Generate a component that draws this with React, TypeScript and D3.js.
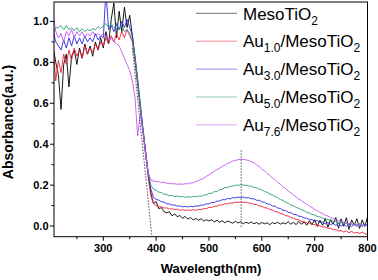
import React from 'react';
import * as d3 from 'd3';

const W = 378;
const H = 280;

const wavelengths = [
  205, 210, 215, 220, 225, 230, 235, 240, 245, 250,
  255, 260, 265, 270, 275, 280, 285, 290, 295, 300,
  305, 310, 315, 320, 325, 330, 335, 340, 345, 350,
  355, 360, 365, 370, 375, 380, 385, 390, 395,
  400, 405, 410, 415, 420, 425, 430, 435, 440, 445,
  450, 455, 460, 465, 470, 475, 480, 485, 490, 495,
  500, 505, 510, 515, 520, 525, 530, 535, 540, 545,
  550, 555, 560, 565, 570, 575, 580, 585, 590, 595,
  600, 605, 610, 615, 620, 625, 630, 635, 640, 645,
  650, 655, 660, 665, 670, 675, 680, 685, 690, 695,
  700, 705, 710, 715, 720, 725, 730, 735, 740, 745,
  750, 755, 760, 765, 770, 775, 780, 785, 790, 795,
  800,
];

const mesoTiO2 = [
  0.88, 0.80, 0.74, 0.57, 0.79, 0.84, 0.68, 0.83, 0.86, 0.79,
  0.87, 0.82, 0.89, 0.84, 0.88, 0.83, 0.90, 0.86, 0.92, 0.87,
  0.95, 0.89, 1.01, 1.09, 0.92, 1.05, 0.95, 1.07, 0.97, 1.03,
  0.93, 0.82, 0.70, 0.58, 0.47, 0.36, 0.25, 0.16, 0.11,
  0.12, 0.085, 0.09, 0.07, 0.065, 0.07, 0.05, 0.06, 0.045, 0.052,
  0.038, 0.047, 0.034, 0.042, 0.03, 0.037, 0.028, 0.036, 0.024, 0.031,
  0.025, 0.031, 0.02, 0.028, 0.019, 0.026, 0.016, 0.024, 0.02, 0.014,
  0.023, 0.015, 0.021, 0.011, 0.019, 0.013, 0.02, 0.011, 0.017, 0.009,
  0.018, 0.011, 0.016, 0.007, 0.017, 0.011, 0.019, 0.009, 0.016, 0.011,
  0.021, 0.009, 0.018, 0.007, 0.023, 0.009, 0.019, 0.004, 0.026, 0.007,
  0.031, -0.001, 0.029, 0.004, 0.036, -0.006, 0.031, 0.009, 0.042, -0.011,
  0.035, -0.001, 0.041, -0.016, 0.03, 0.004, 0.036, -0.012, 0.03, -0.002,
  0.045,
];

const au10 = [
  0.88, 0.71, 0.81, 0.75, 0.84, 0.79, 0.86, 0.81, 0.87, 0.83,
  0.86, 0.82, 0.88, 0.84, 0.87, 0.85, 0.89, 0.86, 0.90, 0.88,
  0.92, 0.89, 0.93, 0.90, 0.94, 0.91, 0.95, 0.92, 0.96, 0.93,
  0.90, 0.80, 0.69, 0.57, 0.46, 0.35, 0.24, 0.15, 0.11,
  0.10, 0.093, 0.094, 0.088, 0.089, 0.083, 0.085, 0.08, 0.083, 0.077,
  0.08, 0.076, 0.079, 0.076, 0.08, 0.077, 0.081, 0.08, 0.085, 0.085,
  0.091, 0.091, 0.097, 0.097, 0.103, 0.103, 0.109, 0.108, 0.113, 0.112,
  0.117, 0.115, 0.119, 0.115, 0.117, 0.112, 0.112, 0.106, 0.105, 0.098,
  0.097, 0.09, 0.088, 0.081, 0.079, 0.071, 0.069, 0.061, 0.059, 0.051,
  0.049, 0.041, 0.039, 0.032, 0.031, 0.023, 0.022, 0.015, 0.014, 0.008,
  0.007, 0.001, 0.001, -0.005, -0.004, -0.011, -0.011, -0.017, -0.017, -0.024,
  -0.022, -0.029, -0.024, -0.033, -0.026, -0.034, -0.031, -0.036, -0.03, -0.038,
  -0.042,
];

const au30 = [
  0.96, 0.90, 0.88, 0.86, 0.91, 0.87, 0.92, 0.88, 0.93, 0.89,
  0.92, 0.89, 0.93, 0.90, 0.92, 0.90, 0.94, 0.91, 0.93, 0.92,
  1.15, 0.96, 0.98, 0.95, 0.99, 0.96, 1.00, 0.97, 1.01, 0.97,
  0.93, 0.83, 0.72, 0.60, 0.48, 0.37, 0.26, 0.18, 0.14,
  0.13, 0.127, 0.119, 0.117, 0.109, 0.108, 0.102, 0.103, 0.097, 0.098,
  0.094, 0.096, 0.093, 0.097, 0.094, 0.099, 0.097, 0.103, 0.102, 0.109,
  0.108, 0.115, 0.115, 0.122, 0.122, 0.129, 0.128, 0.135, 0.133, 0.139,
  0.137, 0.142, 0.139, 0.142, 0.137, 0.139, 0.133, 0.134, 0.126, 0.126,
  0.118, 0.117, 0.108, 0.107, 0.098, 0.097, 0.088, 0.086, 0.077, 0.076,
  0.067, 0.066, 0.057, 0.056, 0.048, 0.047, 0.039, 0.039, 0.031, 0.032,
  0.024, 0.027, 0.017, 0.02, 0.011, 0.017, 0.006, 0.014, 0.003, 0.012,
  -0.001, 0.01, -0.003, 0.011, -0.004, 0.01, -0.002, 0.012, -0.003, 0.009,
  0.006,
];

const au50 = [
  0.94, 0.97, 0.97, 0.98, 0.96, 0.98, 0.96, 0.97, 0.955, 0.97,
  0.95, 0.965, 0.95, 0.96, 0.955, 0.965, 0.96, 0.975, 0.965, 0.98,
  0.99, 0.97, 0.99, 0.97, 0.98, 0.96, 0.98, 0.95, 0.96, 0.94,
  0.91, 0.82, 0.71, 0.59, 0.47, 0.36, 0.26, 0.20, 0.18,
  0.175, 0.166, 0.164, 0.155, 0.155, 0.148, 0.15, 0.144, 0.147, 0.142,
  0.145, 0.14, 0.144, 0.141, 0.145, 0.143, 0.147, 0.145, 0.152, 0.152,
  0.16, 0.16, 0.168, 0.169, 0.178, 0.179, 0.188, 0.188, 0.195, 0.195,
  0.2, 0.199, 0.202, 0.2, 0.2, 0.196, 0.195, 0.189, 0.187, 0.18,
  0.177, 0.169, 0.165, 0.157, 0.152, 0.144, 0.139, 0.13, 0.125, 0.116,
  0.112, 0.103, 0.099, 0.091, 0.087, 0.079, 0.076, 0.067, 0.064, 0.057,
  0.054, 0.047, 0.045, 0.039, 0.037, 0.031, 0.03, 0.024, 0.023, 0.018,
  0.017, 0.013, 0.013, 0.009, 0.01, 0.006, 0.008, 0.004, 0.007, 0.003,
  0.005,
];

const au76 = [
  1.03, 0.95, 0.92, 0.94, 0.90, 0.95, 0.93, 0.96, 0.92, 0.95,
  0.93, 0.95, 0.92, 0.94, 0.93, 0.95, 0.93, 0.94, 0.93, 0.94,
  0.93, 0.91, 0.92, 0.90, 0.89, 0.88, 0.85, 0.82, 0.79, 0.76,
  0.71, 0.63, 0.44, 0.55, 0.46, 0.35, 0.26, 0.225, 0.22,
  0.218, 0.217, 0.213, 0.213, 0.209, 0.209, 0.206, 0.207, 0.204, 0.206,
  0.204, 0.207, 0.206, 0.21, 0.212, 0.218, 0.221, 0.228, 0.234, 0.243,
  0.25, 0.26, 0.266, 0.276, 0.282, 0.292, 0.297, 0.306, 0.31, 0.318,
  0.32, 0.325, 0.325, 0.327, 0.323, 0.321, 0.314, 0.31, 0.299, 0.291,
  0.279, 0.27, 0.257, 0.248, 0.235, 0.227, 0.214, 0.205, 0.192, 0.183,
  0.171, 0.163, 0.151, 0.143, 0.132, 0.125, 0.114, 0.107, 0.097, 0.091,
  0.081, 0.076, 0.067, 0.062, 0.053, 0.049, 0.041, 0.037, 0.03, 0.027,
  0.021, 0.019, 0.014, 0.013, 0.009, 0.009, 0.005, 0.006, 0.003, 0.005,
  0.003,
];

const seriesNames = ['MesoTiO2', 'Au1.0/MesoTiO2', 'Au3.0/MesoTiO2', 'Au5.0/MesoTiO2', 'Au7.6/MesoTiO2'];
const seriesSubs = ['', '1.0', '3.0', '5.0', '7.6'];
const seriesColors = ['#000000', '#f0203a', '#2a2ae6', '#2e9c78', '#c455f2'];
const seriesValues = [mesoTiO2, au10, au30, au50, au76];

const xMajorTicks = [300, 400, 500, 600, 700, 800];
const xMinorTicks = [250, 350, 450, 550, 650, 750];
const yMajorTicks = [0, 0.2, 0.4, 0.6, 0.8, 1.0];
const yMinorTicks = [0.1, 0.3, 0.5, 0.7, 0.9];

const tangentLine: [number, number][] = [[355, 0.87], [393, -0.076]];
const peakLine: [number, number][] = [[561, 0.37], [561, -0.01]];

const FONT = 'Liberation Sans, Arial, Helvetica, sans-serif';

export default function App() {
  const x = d3.scaleLinear().domain([206.7, 800]).range([54, 367.5]);
  const y = d3.scaleLinear().domain([-0.052, 1.095]).range([236.7, 2]);
  const [x0, x1] = x.range();
  const [y0, y1] = y.range();

  const lineGen = d3
    .line<number>()
    .x((_, i) => x(wavelengths[i]))
    .y((d) => y(d));
  const segGen = d3
    .line<[number, number]>()
    .x((d) => x(d[0]))
    .y((d) => y(d[1]));

  const legendX1 = 196;
  const legendX2 = 237;
  const legendTextX = 243;
  const legendY0 = 13.3;
  const legendStep = 27.9;

  return (
    <svg
      width={W}
      height={H}
      viewBox={`0 0 ${W} ${H}`}
      style={{ position: 'absolute', left: 0, top: 0, background: '#fff' }}
      fontFamily={FONT}
    >
      <defs>
        <clipPath id="plotClip">
          <rect x={x0} y={y1} width={x1 - x0} height={y0 - y1} />
        </clipPath>
      </defs>

      <g clipPath="url(#plotClip)">
        {seriesValues.map((vals, k) => (
          <path
            key={k}
            d={lineGen(vals) || ''}
            fill="none"
            stroke={seriesColors[k]}
            strokeWidth={0.9}
            strokeLinejoin="round"
          />
        ))}
        <path
          d={segGen(tangentLine) || ''}
          fill="none"
          stroke="#4a4f66"
          strokeWidth={1}
          strokeDasharray="1.5,1.5"
        />
        <path
          d={segGen(peakLine) || ''}
          fill="none"
          stroke="#4a5578"
          strokeWidth={1}
          strokeDasharray="1.5,1.5"
        />
      </g>

      <rect x={x0} y={y1} width={x1 - x0} height={y0 - y1} fill="none" stroke="#000" strokeWidth={1} />

      {xMajorTicks.map((t) => (
        <g key={`xM${t}`}>
          <line x1={x(t)} x2={x(t)} y1={y0} y2={y0 + 4} stroke="#000" strokeWidth={1} />
          <text x={x(t)} y={252} textAnchor="middle" fontSize={11} fontWeight="bold">
            {t}
          </text>
        </g>
      ))}
      {xMinorTicks.map((t) => (
        <line key={`xm${t}`} x1={x(t)} x2={x(t)} y1={y0} y2={y0 + 2.5} stroke="#000" strokeWidth={1} />
      ))}

      {yMajorTicks.map((t) => (
        <g key={`yM${t}`}>
          <line x1={x0 - 4} x2={x0} y1={y(t)} y2={y(t)} stroke="#000" strokeWidth={1} />
          <text x={48.5} y={y(t)} dy="0.36em" textAnchor="end" fontSize={11} fontWeight="bold">
            {d3.format('.1f')(t)}
          </text>
        </g>
      ))}
      {yMinorTicks.map((t) => (
        <line key={`ym${t}`} x1={x0 - 2.5} x2={x0} y1={y(t)} y2={y(t)} stroke="#000" strokeWidth={1} />
      ))}

      <text x={211} y={273} textAnchor="middle" fontSize={13} fontWeight="bold">
        Wavelength(nm)
      </text>
      <text
        transform={`translate(13.3,122) rotate(-90)`}
        textAnchor="middle"
        fontSize={14}
        fontWeight="bold"
      >
        Absorbance(a.u.)
      </text>

      {seriesNames.map((name, k) => {
        const ly = legendY0 + k * legendStep;
        const sub = seriesSubs[k];
        return (
          <g key={name}>
            <line
              x1={legendX1}
              x2={legendX2}
              y1={ly}
              y2={ly}
              stroke={seriesColors[k]}
              strokeWidth={1}
              strokeOpacity={0.55}
            />
            <text x={legendTextX} y={ly + 6.2} fontSize={17}>
              {sub ? (
                <>
                  <tspan>Au</tspan>
                  <tspan fontSize={12} dy={5}>{sub}</tspan>
                  <tspan dy={-5}>/MesoTiO</tspan>
                  <tspan fontSize={12} dy={5}>2</tspan>
                </>
              ) : (
                <>
                  <tspan>MesoTiO</tspan>
                  <tspan fontSize={12} dy={5}>2</tspan>
                </>
              )}
            </text>
          </g>
        );
      })}
    </svg>
  );
}
